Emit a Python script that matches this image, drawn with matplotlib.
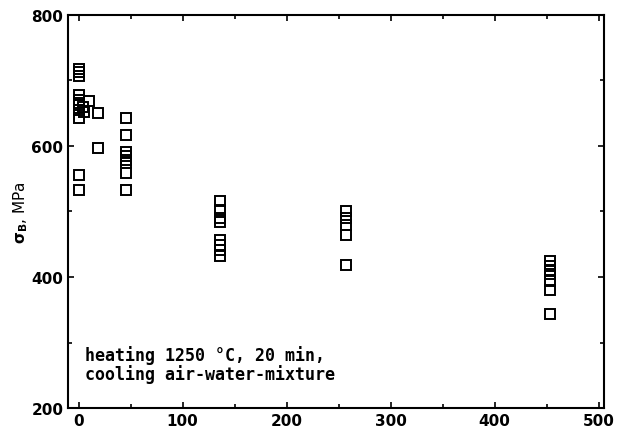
import numpy as np
import matplotlib
matplotlib.use('Agg')
import matplotlib.pyplot as plt
from matplotlib.ticker import MultipleLocator

matplotlib.rcParams['font.family'] = 'DejaVu Sans'
matplotlib.rcParams['font.weight'] = 'bold'

# cooling time groups (x) and tensile strength values (MPa)
x_0 = [0, 0, 0, 0, 0, 0, 0, 0, 0, 0, 0]
y_0 = [718, 712, 706, 678, 670, 662, 655, 643, 556, 533, 666]
x_short = [4, 5, 10, 19, 19]
y_short = [660, 652, 669, 650, 597]
x_45 = [46, 46, 46, 46, 46, 46, 46, 46]
y_45 = [643, 617, 590, 584, 578, 574, 559, 533]
x_135 = [136, 136, 136, 136, 136, 136, 136, 136]
y_135 = [516, 502, 490, 484, 456, 449, 441, 432]
x_255 = [257, 257, 257, 257, 257]
y_255 = [501, 490, 480, 464, 418]
x_450 = [453, 453, 453, 453, 453, 453, 453]
y_450 = [424, 417, 410, 404, 394, 380, 343]

xs = x_0 + x_short + x_45 + x_135 + x_255 + x_450
ys = y_0 + y_short + y_45 + y_135 + y_255 + y_450

fig = plt.figure(figsize=(6.25, 4.39), dpi=100)
ax = fig.add_axes([0.109, 0.068, 0.857, 0.896])

ax.plot(xs, ys, 's', ms=7, mfc='none', mec='black', mew=1.4)

ax.set_xlim(-10, 505)
ax.set_ylim(200, 800)
ax.xaxis.set_major_locator(MultipleLocator(100))
ax.xaxis.set_minor_locator(MultipleLocator(50))
ax.yaxis.set_major_locator(MultipleLocator(200))
ax.yaxis.set_minor_locator(MultipleLocator(100))
ax.tick_params(which='both', direction='in', top=True, right=True, labelsize=11, width=1.2)
ax.tick_params(which='major', length=4)
ax.tick_params(which='minor', length=3)
for s in ax.spines.values():
    s.set_linewidth(1.5)

ax.set_ylabel(r'$\mathbf{\sigma_B}$, MPa', fontsize=11, labelpad=1)

ax.text(0.032, 0.136, 'heating 1250 °C, 20 min,', transform=ax.transAxes,
        family='DejaVu Sans Mono', fontsize=12, va='center', ha='left')
ax.text(0.032, 0.087, 'cooling air-water-mixture', transform=ax.transAxes,
        family='DejaVu Sans Mono', fontsize=12, va='center', ha='left')

fig.savefig('out.png', dpi=100)
